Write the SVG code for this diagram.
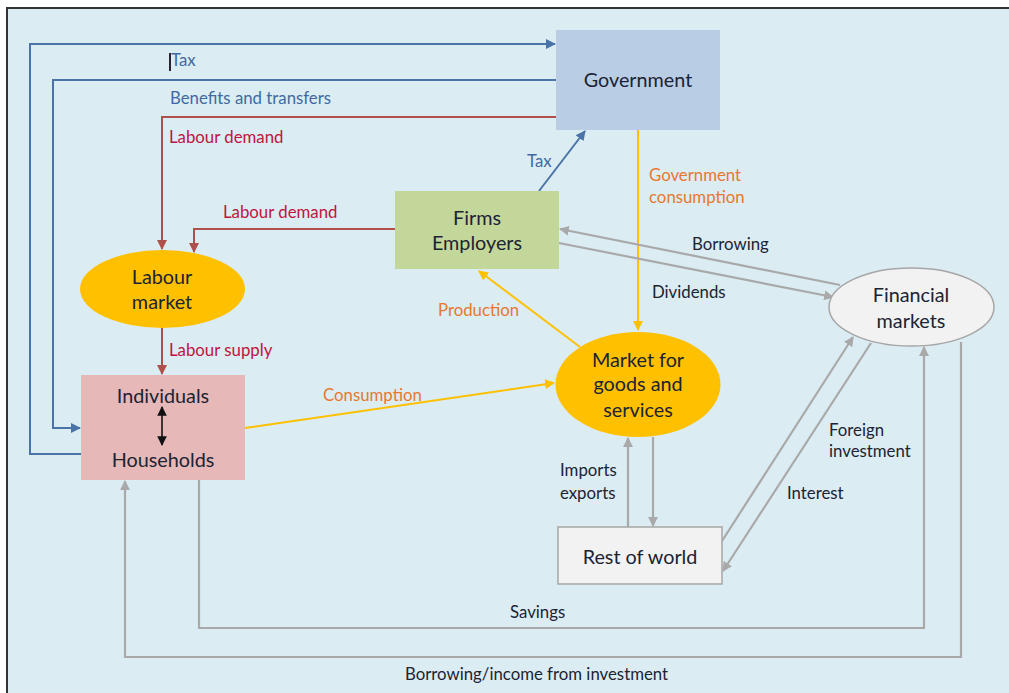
<svg xmlns="http://www.w3.org/2000/svg" width="1009" height="693" viewBox="0 0 1009 693">
<defs>
<style>
.lbl{font-family:Lato,"Open Sans","Liberation Sans",sans-serif;font-size:16.8px}
.node{font-family:Lato,"Open Sans","Liberation Sans",sans-serif;font-size:19.8px;fill:#1c2333;text-anchor:middle}
.blue{fill:#3f6aa0}.red{fill:#c0143c}.orange{fill:#e8782e}.dark{fill:#1c2333}
.lb{fill:none;stroke:#4a73a8;stroke-width:2}
.lr{fill:none;stroke:#b0504c;stroke-width:2}
.lo{fill:none;stroke:#ffc000;stroke-width:2}
.lg{fill:none;stroke:#a9a9a9;stroke-width:2.2}
</style>
<marker id="ab" viewBox="0 0 10 10" refX="9" refY="5" markerWidth="5" markerHeight="5" orient="auto" markerUnits="strokeWidth"><path d="M0,0 L10,5 L0,10 z" fill="#4a73a8"/></marker>
<marker id="ar" viewBox="0 0 10 10" refX="9" refY="5" markerWidth="5" markerHeight="5" orient="auto" markerUnits="strokeWidth"><path d="M0,0 L10,5 L0,10 z" fill="#b0504c"/></marker>
<marker id="ao" viewBox="0 0 10 10" refX="9" refY="5" markerWidth="5" markerHeight="5" orient="auto" markerUnits="strokeWidth"><path d="M0,0 L10,5 L0,10 z" fill="#ffc000"/></marker>
<marker id="ag" viewBox="0 0 10 10" refX="9" refY="5" markerWidth="4.5" markerHeight="4.5" orient="auto" markerUnits="strokeWidth"><path d="M0,0 L10,5 L0,10 z" fill="#a9a9a9"/></marker>
<marker id="ak" viewBox="0 0 10 10" refX="9" refY="5" markerWidth="6" markerHeight="6" orient="auto-start-reverse" markerUnits="strokeWidth"><path d="M0,0 L10,5 L0,10 z" fill="#111"/></marker>
</defs>
<rect x="0" y="0" width="1009" height="693" fill="#ffffff"/>
<rect x="8" y="9" width="1001" height="684" fill="#dbecf3"/>
<path d="M7,693 V8 H1009" fill="none" stroke="#333" stroke-width="2"/>

<g id="connectors">
<path class="lb" d="M81,454 H30 V44 H555" marker-end="url(#ab)"/>
<path class="lb" d="M556,80 H53 V428 H80" marker-end="url(#ab)"/>
<path class="lb" d="M539,191 L585,131" marker-end="url(#ab)"/>
<path class="lr" d="M556,117 H162 V249" marker-end="url(#ar)"/>
<path class="lr" d="M395,229 H194 V252" marker-end="url(#ar)"/>
<path class="lr" d="M162,328 V374" marker-end="url(#ar)"/>
<path class="lo" d="M638,130 V330" marker-end="url(#ao)"/>
<path class="lo" d="M580,347 L479,271" marker-end="url(#ao)"/>
<path class="lo" d="M245,428 L554,383" marker-end="url(#ao)"/>
<path class="lg" d="M840,285 L560,229" marker-end="url(#ag)"/>
<path class="lg" d="M559,243 L833,297" marker-end="url(#ag)"/>
<path class="lg" d="M628,527 V438" marker-end="url(#ag)"/>
<path class="lg" d="M653,437 V526" marker-end="url(#ag)"/>
<path class="lg" d="M722,541 L853,337" marker-end="url(#ag)"/>
<path class="lg" d="M871,343 L723,571" marker-end="url(#ag)"/>
<path class="lg" d="M199,480 V628 H924 V347" marker-end="url(#ag)"/>
<path class="lg" d="M961,342 V657 H125 V481" marker-end="url(#ag)"/>
</g>

<g id="labels">
<line x1="170" y1="53" x2="170" y2="71" stroke="#2a2030" stroke-width="2"/>
<text class="lbl blue" x="171" y="66">Tax</text>
<text class="lbl blue" x="170" y="104">Benefits and transfers</text>
<text class="lbl red" x="169" y="143">Labour demand</text>
<text class="lbl red" x="223" y="218">Labour demand</text>
<text class="lbl red" x="169" y="356">Labour supply</text>
<text class="lbl orange" x="323" y="401">Consumption</text>
<text class="lbl orange" x="438" y="316">Production</text>
<text class="lbl blue" x="527" y="167">Tax</text>
<text class="lbl orange" x="649" y="181">Government</text>
<text class="lbl orange" x="649" y="203">consumption</text>
<text class="lbl dark" x="692" y="250">Borrowing</text>
<text class="lbl dark" x="652" y="298">Dividends</text>
<text class="lbl dark" x="560" y="476">Imports</text>
<text class="lbl dark" x="560" y="499">exports</text>
<text class="lbl dark" x="829" y="436">Foreign</text>
<text class="lbl dark" x="829" y="457">investment</text>
<text class="lbl dark" x="787" y="499">Interest</text>
<text class="lbl dark" x="510" y="618">Savings</text>
<text class="lbl dark" x="405" y="680">Borrowing/income from investment</text>
</g>

<g id="government">
<rect x="556" y="30" width="164" height="100" fill="#b9cde4"/>
<text class="node" x="638" y="87">Government</text>
</g>
<g id="firms">
<rect x="395" y="191" width="164" height="78" fill="#c4d79b"/>
<text class="node" x="477" y="225">Firms</text>
<text class="node" x="477" y="250">Employers</text>
</g>
<g id="labour-market">
<ellipse cx="162.5" cy="289" rx="82.5" ry="39" fill="#ffc000"/>
<text class="node" x="162" y="284">Labour</text>
<text class="node" x="162" y="309">market</text>
</g>
<g id="households">
<rect x="81" y="375" width="164" height="105" fill="#e6b8b7"/>
<text class="node" x="163" y="403">Individuals</text>
<text class="node" x="163" y="467">Households</text>
<line x1="162" y1="407" x2="162" y2="445" stroke="#111" stroke-width="1.6" marker-start="url(#ak)" marker-end="url(#ak)"/>
</g>
<g id="market-goods">
<ellipse cx="638" cy="384.5" rx="82.5" ry="52.5" fill="#ffc000"/>
<text class="node" x="638" y="367">Market for</text>
<text class="node" x="638" y="391">goods and</text>
<text class="node" x="638" y="417">services</text>
</g>
<g id="financial-markets">
<ellipse cx="911.5" cy="307" rx="82.5" ry="39" fill="#f2f2f2" stroke="#a6a6a6" stroke-width="1.5"/>
<text class="node" x="911" y="302">Financial</text>
<text class="node" x="911" y="328">markets</text>
</g>
<g id="rest-of-world">
<rect x="558" y="527" width="164" height="57" fill="#f2f2f2" stroke="#a6a6a6" stroke-width="1.5"/>
<text class="node" x="640" y="564">Rest of world</text>
</g>
</svg>
